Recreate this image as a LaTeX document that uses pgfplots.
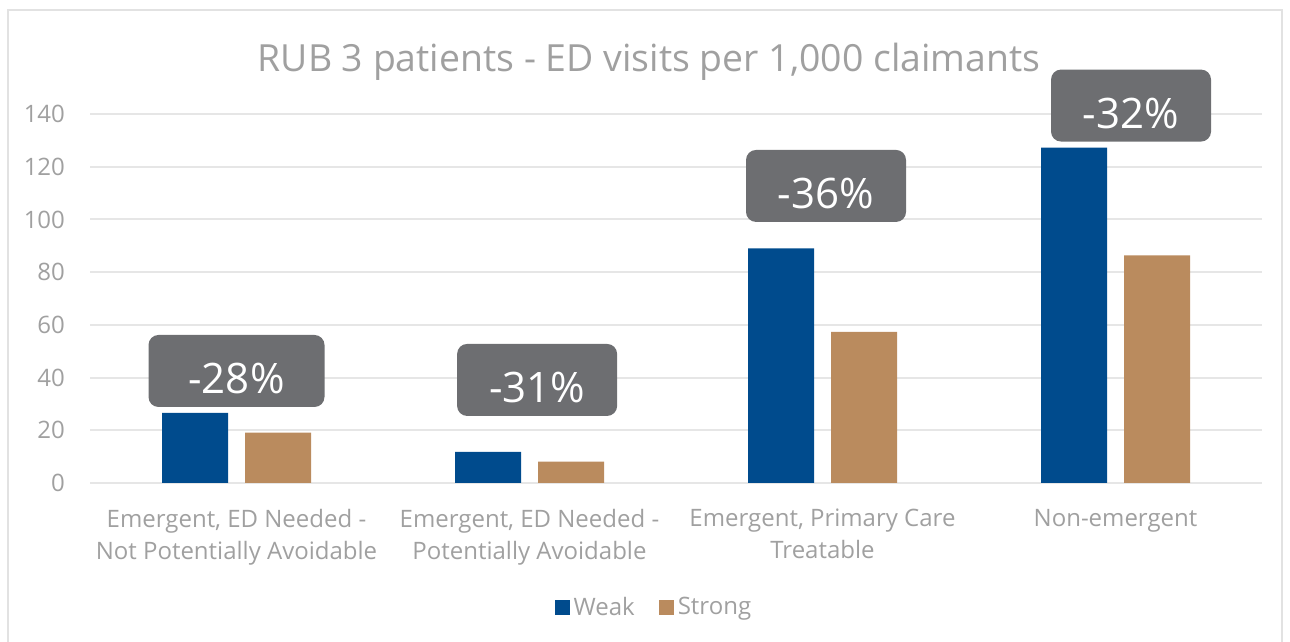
\documentclass[border=0pt]{standalone}
\usepackage{pgfplots}
\pgfplotsset{compat=1.18}
\usepackage{fontspec}
\setmainfont{Open Sans}

\definecolor{weakblue}{HTML}{004B8D}
\definecolor{strongtan}{HTML}{BA8B5E}
\definecolor{boxgray}{HTML}{6D6E71}
\definecolor{txtgray}{HTML}{A0A0A0}
\definecolor{gridgray}{HTML}{E6E6E6}
\definecolor{framegray}{HTML}{E2E2E2}

\begin{document}
\begin{tikzpicture}
% chart frame
\draw[framegray, line width=0.8pt] (4pt,-3pt) -- (4pt,316pt) -- (641pt,316pt) -- (641pt,-3pt);

\begin{axis}[
  scale only axis,
  width=586pt, height=184.5pt,
  at={(45pt,79.5pt)}, anchor=south west,
  xmin=-0.5, xmax=3.5, ymin=0, ymax=140,
  ytick={0,20,...,140},
  xtick={0,1,2,3},
  xticklabels={{Emergent, ED Needed -\\Not Potentially Avoidable},
               {Emergent, ED Needed -\\Potentially Avoidable},
               {Emergent, Primary Care\\Treatable},
               {Non-emergent}},
  xticklabel style={align=center, font=\fontsize{12}{16}\selectfont, text=txtgray, yshift=-9.5pt},
  yticklabel style={font=\fontsize{12}{13}\selectfont, text=txtgray, xshift=-9pt},
  /pgf/number format/assume math mode=true,
  axis line style={draw=none},
  major tick length=0pt,
  ymajorgrids, grid style={gridgray, line width=1pt},
  clip=false,
  legend columns=2,
  legend style={at={(0.482,-0.338)}, anchor=center, draw=none, fill=none,
    font=\fontsize{12}{13}\selectfont, text=txtgray,
    /tikz/every even column/.append style={column sep=10pt}},
  legend image code/.code={\fill[#1] (0pt,-3.75pt) rectangle (7.5pt,3.75pt);},
]
\addplot[ybar, bar width=33pt, bar shift=-20.75pt, fill=weakblue, draw=none]
  coordinates {(0,26.6) (1,11.8) (2,89.0) (3,127.2)};
\addlegendentry{Weak}
\addplot[ybar, bar width=33pt, bar shift=20.75pt, fill=strongtan, draw=none]
  coordinates {(0,19.1) (1,8.1) (2,57.3) (3,86.4)};
\addlegendentry{Strong}

\tikzset{chg/.style={fill=boxgray, rounded corners=5pt, minimum height=36pt, inner sep=0pt,
  label={[text=white, font=\fontsize{21}{24}\selectfont, yshift=-4pt]center:#1}}}
\node[chg=-28\%, minimum width=88pt] at (axis cs:0,42.5) {};
\node[chg=-31\%, minimum width=80pt] at (axis cs:1.026,39.1) {};
\node[chg=-36\%, minimum width=80pt] at (axis cs:2.012,112.7) {};
\node[chg=-32\%, minimum width=80pt] at (axis cs:3.053,143.2) {};
\end{axis}

\node[text=txtgray, font=\fontsize{18.7}{22}\selectfont] at (324.5pt,290pt)
  {RUB 3 patients - ED visits per 1,000 claimants};

\pgfresetboundingbox
\path[use as bounding box] (0,0) rectangle (645pt,321pt);
\end{tikzpicture}
\end{document}
